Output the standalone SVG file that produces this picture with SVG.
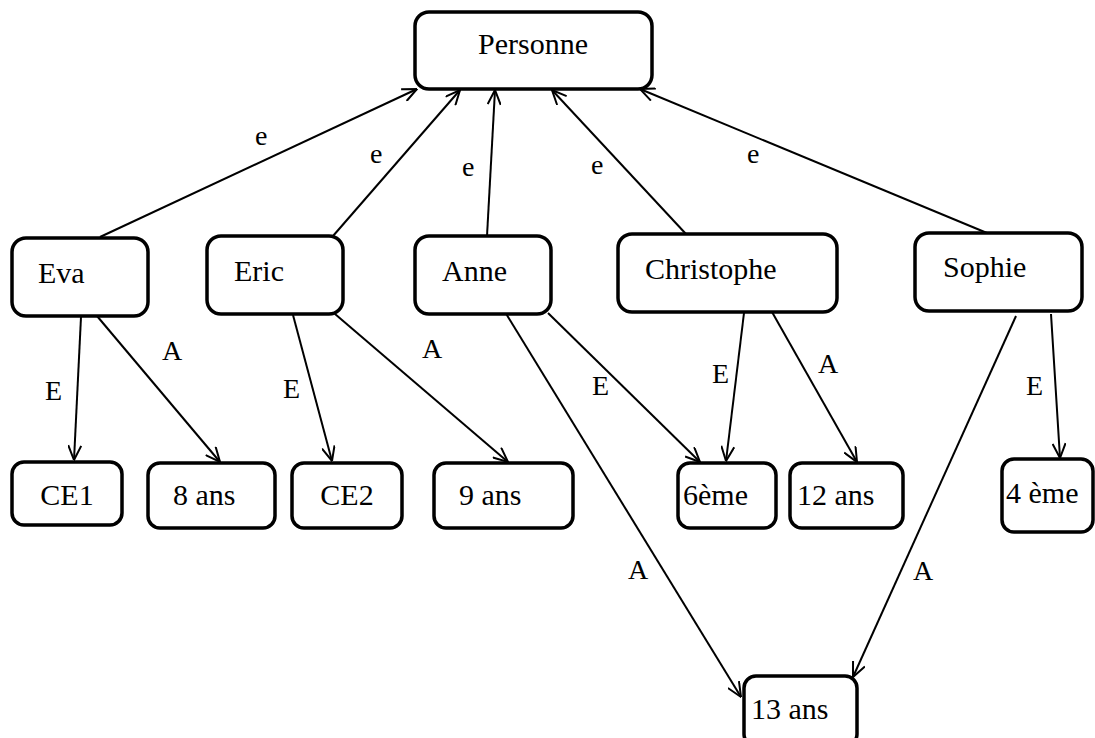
<svg xmlns="http://www.w3.org/2000/svg" width="1095" height="738" viewBox="0 0 1095 738">
  <style>
    .box { fill: #ffffff; stroke: #000000; stroke-width: 3.5; }
    .node-text { font-size: 30px; fill: #000000; }
    .edge { stroke: #000000; stroke-width: 2; fill: none; marker-end: url(#arrow); }
    .edge-label { font-size: 28px; fill: #000000; }
  </style>
  <defs>
    <marker id="arrow" viewBox="0 0 16 14" refX="15.5" refY="7" markerWidth="16" markerHeight="14" markerUnits="userSpaceOnUse" orient="auto">
      <path d="M1,0.5 L15.5,7 L1,13.5" fill="none" stroke="#000000" stroke-width="2"/>
    </marker>
  </defs>
  <rect width="1095" height="738" fill="#ffffff"/>

  <!-- connectors -->
  <g id="connectors">
    <!-- "e" links up to Personne -->
    <line class="edge" x1="100" y1="237" x2="417" y2="89"/>
    <line class="edge" x1="333" y1="236" x2="460" y2="90"/>
    <line class="edge" x1="487" y1="236" x2="495" y2="90"/>
    <line class="edge" x1="686" y1="234" x2="552" y2="90"/>
    <line class="edge" x1="987" y1="233" x2="640" y2="89"/>
    <!-- Eva -->
    <line class="edge" x1="81" y1="317" x2="74" y2="460"/>
    <line class="edge" x1="97" y1="316" x2="220" y2="462"/>
    <!-- Eric -->
    <line class="edge" x1="293" y1="315" x2="332" y2="461"/>
    <line class="edge" x1="335" y1="314" x2="508" y2="462"/>
    <!-- Anne -->
    <line class="edge" x1="548" y1="313" x2="700" y2="462"/>
    <line class="edge" x1="505" y1="312" x2="741" y2="697"/>
    <!-- Christophe -->
    <line class="edge" x1="744" y1="313" x2="726" y2="461"/>
    <line class="edge" x1="772" y1="312" x2="857" y2="462"/>
    <!-- Sophie -->
    <line class="edge" x1="1051" y1="314" x2="1060" y2="458"/>
    <line class="edge" x1="1016" y1="316" x2="853" y2="677"/>

    <g font-family="'Liberation Serif', 'DejaVu Serif', serif">
      <text class="edge-label" x="255" y="145">e</text>
      <text class="edge-label" x="370" y="163">e</text>
      <text class="edge-label" x="462" y="176">e</text>
      <text class="edge-label" x="591" y="174">e</text>
      <text class="edge-label" x="747" y="163">e</text>
      <text class="edge-label" x="45" y="400">E</text>
      <text class="edge-label" x="162" y="360">A</text>
      <text class="edge-label" x="283" y="398">E</text>
      <text class="edge-label" x="422" y="358">A</text>
      <text class="edge-label" x="592" y="395">E</text>
      <text class="edge-label" x="628" y="579">A</text>
      <text class="edge-label" x="712" y="383">E</text>
      <text class="edge-label" x="818" y="373">A</text>
      <text class="edge-label" x="1026" y="395">E</text>
      <text class="edge-label" x="913" y="580">A</text>
    </g>
  </g>

  <!-- nodes -->
  <g font-family="'Liberation Serif', 'DejaVu Serif', serif">
    <g id="personne">
      <rect class="box" x="415" y="12" width="237" height="77" rx="14"/>
      <text class="node-text" x="533" y="54" text-anchor="middle">Personne</text>
    </g>
    <g id="eva">
      <rect class="box" x="12" y="238" width="136" height="78" rx="14"/>
      <text class="node-text" x="38" y="283">Eva</text>
    </g>
    <g id="eric">
      <rect class="box" x="207" y="236" width="136" height="78" rx="14"/>
      <text class="node-text" x="234" y="281">Eric</text>
    </g>
    <g id="anne">
      <rect class="box" x="415" y="236" width="136" height="78" rx="14"/>
      <text class="node-text" x="442" y="281">Anne</text>
    </g>
    <g id="christophe">
      <rect class="box" x="618" y="234" width="219" height="78" rx="14"/>
      <text class="node-text" x="645" y="279">Christophe</text>
    </g>
    <g id="sophie">
      <rect class="box" x="915" y="233" width="167" height="78" rx="14"/>
      <text class="node-text" x="943" y="277">Sophie</text>
    </g>
    <g id="ce1">
      <rect class="box" x="12" y="462" width="110" height="63" rx="12"/>
      <text class="node-text" x="67" y="505" text-anchor="middle">CE1</text>
    </g>
    <g id="ans8">
      <rect class="box" x="148" y="463" width="127" height="65" rx="12"/>
      <text class="node-text" x="173" y="505">8 ans</text>
    </g>
    <g id="ce2">
      <rect class="box" x="292" y="463" width="110" height="65" rx="12"/>
      <text class="node-text" x="347" y="505" text-anchor="middle">CE2</text>
    </g>
    <g id="ans9">
      <rect class="box" x="434" y="463" width="139" height="65" rx="12"/>
      <text class="node-text" x="459" y="505">9 ans</text>
    </g>
    <g id="sixieme">
      <rect class="box" x="678" y="463" width="98" height="65" rx="12"/>
      <text class="node-text" x="683" y="505">6ème</text>
    </g>
    <g id="ans12">
      <rect class="box" x="790" y="463" width="113" height="65" rx="12"/>
      <text class="node-text" x="797" y="505">12 ans</text>
    </g>
    <g id="quatrieme">
      <rect class="box" x="1002" y="459" width="91" height="73" rx="12"/>
      <text class="node-text" x="1006" y="503">4 ème</text>
    </g>
    <g id="ans13">
      <rect class="box" x="744" y="676" width="113" height="70" rx="12"/>
      <text class="node-text" x="751" y="719">13 ans</text>
    </g>
  </g>
</svg>
